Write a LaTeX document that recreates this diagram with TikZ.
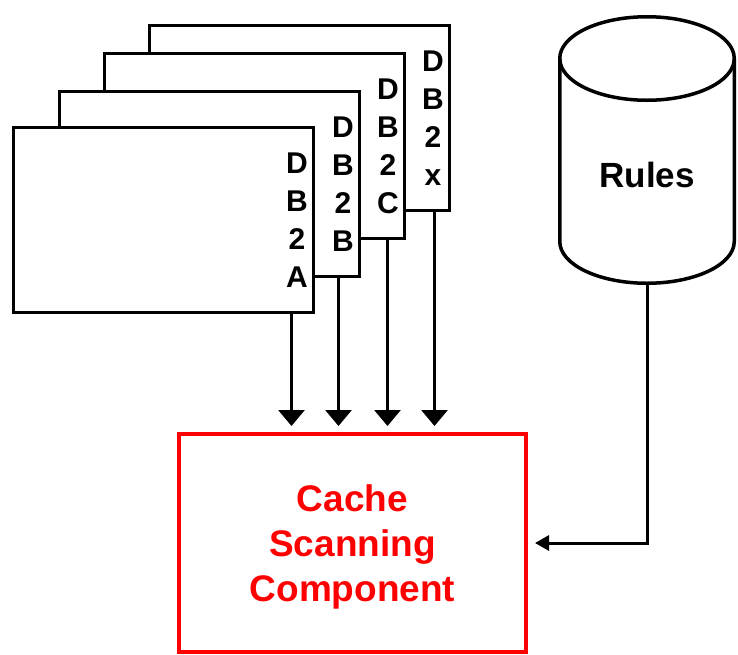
\documentclass[tikz,border=0pt]{standalone}
\usepackage{fontspec}
\setmainfont{Liberation Sans}
\usetikzlibrary{arrows.meta,positioning}
\tikzset{
  card/.style={rectangle, draw, line width=3pt, fill=white, minimum width=300pt, minimum height=185pt},
  cardtext/.style={align=center, inner sep=0pt, font=\fontsize{30}{38}\selectfont\bfseries},
  feed/.style={-{Triangle[width=26pt,length=16pt]}, line width=3pt, shorten >=6pt},
  scanbox/.style={rectangle, draw=red, line width=4pt, minimum width=347pt, minimum height=218pt, text=red, align=center, text depth=0pt, font=\fontsize{37}{45}\selectfont\bfseries},
  store/.style={line width=3.5pt}
}
\newcommand{\dbcard}[3] {\node at (#1) (#2) [card] {}; \node at ([xshift=-18pt]#2.east) (#2text) [cardtext] {#3};}
\newcommand{\dbfeed}[2] {\coordinate (#1feed) at ([xshift=#2]#1.south east); \draw [feed] (#1feed) -- (#1feed |- scan.north);}

\begin{document}
\begin{tikzpicture}[x=1pt, y=-1pt]
\useasboundingbox (0,0) rectangle (738,654);

% cards, back to front
\dbcard {299.5,118} {dbx} {D\\B\\2\\x};
\dbcard {254.5,146} {dbc} {D\\B\\2\\C};
\dbcard {209.5,184} {dbb} {D\\B\\2\\B};
\dbcard {163.5,220} {dba} {D\\B\\2\\A};

\node at (352.5,543) (scan) [scanbox] {Cache\\Scanning\\Component};

% rules store
\coordinate (rulestop) at (647,58.5);
\coordinate (rulesbot) at (647,241.5);
\coordinate (rulesfoot) at (647,283.25);
\draw [store] (rulestop) ellipse [x radius=87.25, y radius=41.75];
\draw [store] ([xshift=-87.25pt]rulestop) -- ([xshift=-87.25pt]rulesbot)
  arc [start angle=180, end angle=0, x radius=87.25, y radius=41.75] -- ([xshift=87.25pt]rulestop);
\node at (647,175) (rules) [font=\fontsize{35}{42}\selectfont\bfseries] {Rules};

\dbfeed{dba}{-23.5pt};
\dbfeed{dbb}{-22.5pt};
\dbfeed{dbc}{-18.5pt};
\dbfeed{dbx}{-16.5pt};

\draw [-{Triangle[width=15pt,length=14pt]}, line width=3pt, shorten >=7pt] (rulesfoot) |- (scan.east);
\end{tikzpicture}
\end{document}
